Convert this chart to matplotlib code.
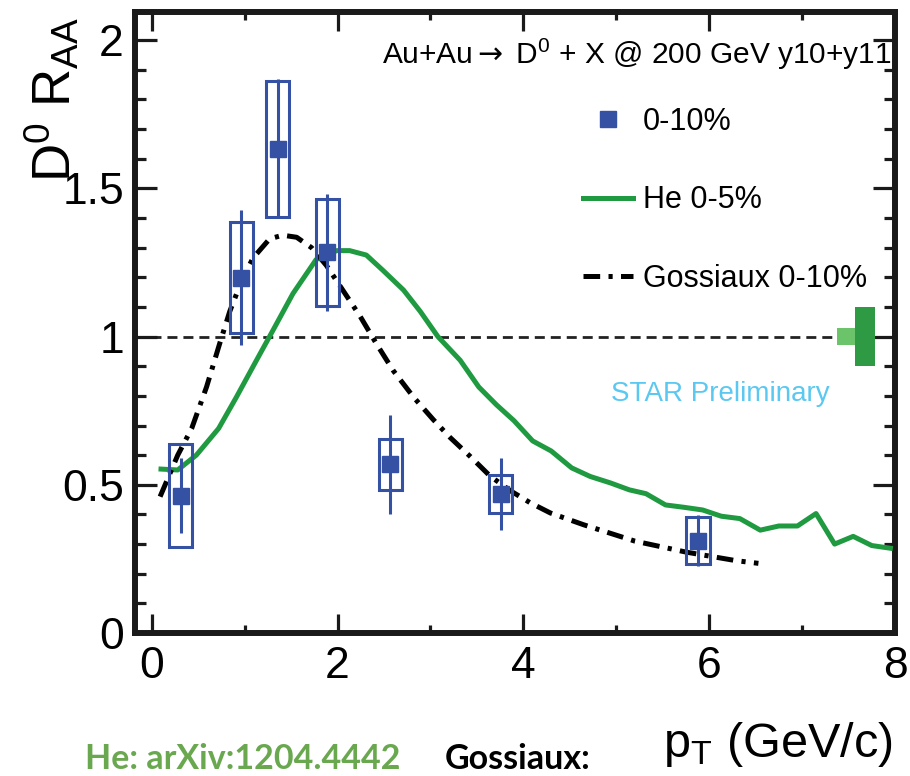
import matplotlib
matplotlib.use("Agg")
import matplotlib.pyplot as plt
from matplotlib.ticker import MultipleLocator, FuncFormatter

# ---- measured D0 R_AA, 0-10% central Au+Au at 200 GeV ----
pt = [0.31, 0.966, 1.357, 1.889, 2.567, 3.756, 5.88]
raa = [0.463, 1.199, 1.634, 1.284, 0.569, 0.469, 0.312]
stat_err = [0.127, 0.229, 0.235, 0.197, 0.166, 0.120, 0.085]
sys_err = [0.174, 0.186, 0.229, 0.180, 0.087, 0.065, 0.078]

# ---- He et al. model, 0-5% ----
he_pt = [0.10, 0.28, 0.48, 0.72, 0.91, 1.11, 1.31, 1.52, 1.77, 1.99, 2.13,
         2.31, 2.49, 2.71, 2.89, 3.08, 3.32, 3.52, 3.71, 3.90, 4.10, 4.30,
         4.52, 4.72, 4.94, 5.14, 5.32, 5.53, 5.73, 5.93, 6.13, 6.33, 6.55,
         6.75, 6.95, 7.15, 7.35, 7.55, 7.75, 7.95]
he_raa = [0.553, 0.550, 0.600, 0.690, 0.795, 0.910, 1.024, 1.145, 1.260,
          1.290, 1.290, 1.275, 1.223, 1.157, 1.085, 1.000, 0.920, 0.830,
          0.770, 0.716, 0.648, 0.614, 0.557, 0.528, 0.506, 0.483, 0.470,
          0.432, 0.424, 0.415, 0.394, 0.386, 0.347, 0.361, 0.361, 0.403,
          0.300, 0.326, 0.295, 0.286]

# ---- Gossiaux et al. model, 0-10% ----
go_pt = [0.09, 0.28, 0.43, 0.59, 0.73, 0.84, 0.97, 1.09, 1.27, 1.41, 1.56,
         1.72, 1.88, 2.06, 2.24, 2.42, 2.60, 2.82, 3.03, 3.21, 3.43, 3.64,
         3.86, 4.07, 4.29, 4.65, 5.20, 5.75, 6.29, 6.53]
go_raa = [0.460, 0.600, 0.690, 0.830, 0.975, 1.085, 1.190, 1.265, 1.330,
          1.342, 1.335, 1.300, 1.240, 1.155, 1.070, 0.975, 0.885, 0.795,
          0.720, 0.660, 0.595, 0.530, 0.480, 0.440, 0.405, 0.365, 0.310,
          0.273, 0.244, 0.235]

# global normalisation uncertainties (pp reference, N_coll)
norm_unc_pp = 0.028
norm_unc_ncoll = 0.10

x_ticks = [0, 2, 4, 6, 8]
y_ticks = [0, 0.5, 1, 1.5, 2]

plt.rcParams["font.family"] = ["Liberation Sans", "DejaVu Sans"]
plt.rcParams["mathtext.fontset"] = "custom"
plt.rcParams["mathtext.rm"] = "Liberation Sans"
plt.rcParams["mathtext.it"] = "Liberation Sans:italic"
plt.rcParams["mathtext.bf"] = "Liberation Sans:bold"
plt.rcParams["mathtext.sf"] = "DejaVu Sans"
plt.rcParams["mathtext.default"] = "regular"
plt.rcParams["lines.scale_dashes"] = False

BLUE = "#3551a4"
GREEN = "#1f9a40"
DARK_GREEN = "#2e9a44"
LIGHT_GREEN = "#6cc46a"

W, H = 910, 776
fig = plt.figure(figsize=(W / 100, H / 100), dpi=100)
ax = fig.add_axes([135 / W, (H - 633) / H, 760 / W, 621 / H])

# unity reference line
ax.axhline(1.0, color="#222222", lw=2.0, dashes=(7.2, 4.3), zorder=1)

# global normalisation boxes at the right edge
ax.bar(7.475, 2 * norm_unc_pp, bottom=1 - norm_unc_pp, width=0.19,
       color=LIGHT_GREEN, zorder=2)
ax.bar(7.675, 2 * norm_unc_ncoll, bottom=1 - norm_unc_ncoll, width=0.21,
       color=DARK_GREEN, zorder=2)

# model curves
ax.plot(he_pt, he_raa, color=GREEN, lw=3.6, solid_joinstyle="round",
        label="He 0-5%", zorder=3)
ax.plot(go_pt, go_raa, color="black", lw=3.6, dashes=(12, 6, 3, 6),
        dash_capstyle="butt", label="Gossiaux 0-10%", zorder=3)

# data: systematic boxes, statistical bars, markers
lo = [r - s for r, s in zip(raa, sys_err)]
ax.bar(pt, [2 * s for s in sys_err], bottom=lo, width=0.25, fill=False,
       edgecolor=BLUE, linewidth=2.2, zorder=4)
ax.errorbar(pt, raa, yerr=stat_err, fmt="none", ecolor=BLUE,
            elinewidth=2.2, capsize=0, zorder=5)
ax.plot(pt, raa, "s", ms=11.5, color=BLUE, mec=BLUE, ls="none",
        label="0-10%", zorder=6)

ax.set_xlim(-0.18, 8.0)
ax.set_ylim(0, 2.095)

ax.xaxis.set_major_locator(MultipleLocator(2))
ax.xaxis.set_minor_locator(MultipleLocator(1))
ax.yaxis.set_major_locator(MultipleLocator(0.5))
ax.yaxis.set_minor_locator(MultipleLocator(0.1))
ax.set_xticks(x_ticks)
ax.set_yticks(y_ticks)
ax.yaxis.set_major_formatter(FuncFormatter(lambda v, p: "%g" % v))
ax.xaxis.set_major_formatter(FuncFormatter(lambda v, p: "%g" % v))

for s in ax.spines.values():
    s.set_linewidth(4.3)
    s.set_color("#1a1a1a")
ax.tick_params(which="both", direction="in", top=True, right=True,
               width=2.3, color="#1a1a1a", labelsize=32)
ax.xaxis.set_tick_params(which="major", length=14, pad=9)
ax.xaxis.set_tick_params(which="minor", length=6)
ax.yaxis.set_tick_params(which="major", length=16, pad=8)
ax.yaxis.set_tick_params(which="minor", length=8)

# axis titles
fig.text(0.057, 1 - 17 / H, r"D$^{0}$ R$_{AA}$", rotation=90, fontsize=38,
         ha="center", va="top")
fig.text(893 / W, 19 / H, r"p$_{T}$ (GeV/c)", fontsize=35, ha="right",
         va="baseline")

# collision system label
fig.text(382 / W, 1 - 64 / H,
         r"Au+Au$\mathsf{\rightarrow}$ D$^{0}$ + X @ 200 GeV y10+y11",
         fontsize=21.5, ha="left", va="baseline")

ax.text(611 / W, 1 - 401 / H, "STAR Preliminary", color="#5ac8f0",
        fontsize=20, ha="left", va="baseline", transform=fig.transFigure)

handles, labels = ax.get_legend_handles_labels()
order = [labels.index(l) for l in ["0-10%", "He 0-5%", "Gossiaux 0-10%"]]
fig.legend([handles[i] for i in order], [labels[i] for i in order],
           loc="upper left", bbox_to_anchor=(583 / W, 1 - 107 / H),
           frameon=False, fontsize=22, handlelength=1.64,
           handletextpad=0.33, labelspacing=1.58, borderpad=0,
           borderaxespad=0)

# model references
fig.text(85 / W, 1 / H, "He: arXiv:1204.4442", color="#6aa84f",
         fontsize=24.5, fontweight="bold", family=["Lato", "DejaVu Sans"],
         ha="left", va="bottom")
fig.text(445 / W, 1 / H, "Gossiaux:", color="black",
         fontsize=24.5, fontweight="bold", family=["Lato", "DejaVu Sans"],
         ha="left", va="bottom")

fig.savefig("out.png", dpi=100)
